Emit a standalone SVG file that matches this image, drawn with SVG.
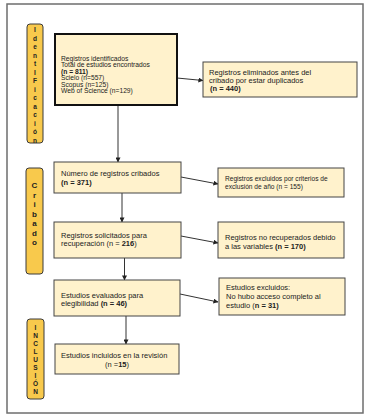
<svg xmlns="http://www.w3.org/2000/svg" width="371" height="417" viewBox="0 0 371 417">
<style>
.t{font-family:"Liberation Sans",Arial,sans-serif;font-size:7.5px;fill:#222}
.t1{font-size:6.7px}
.s{font-size:6.6px}
.b{font-weight:bold}
.bar{fill:#F8C94C;stroke:#3a3a3a;stroke-width:1}
.bl{font-family:"Liberation Sans",Arial,sans-serif;font-weight:bold;fill:#222;text-anchor:middle}
.box{fill:#FFF2CC;stroke:#444;stroke-width:1}
.box1{fill:#FFF2CC;stroke:#111;stroke-width:2}
.c{stroke:#333;stroke-width:1;fill:none;marker-end:url(#ah)}
</style>
<defs>
<marker id="ah" viewBox="0 0 6 6" refX="5.5" refY="3" markerWidth="5" markerHeight="5" orient="auto" markerUnits="userSpaceOnUse">
<path d="M0,0 L6,3 L0,6 z" fill="#222"/>
</marker>
</defs>
<rect x="0" y="0" width="371" height="417" fill="#fff"/>
<rect x="7" y="4" width="356" height="409" fill="#fff" stroke="#6e6e6e" stroke-width="1.5"/>

<g id="phase-identificacion">
<rect class="bar" x="27" y="24" width="16" height="119" rx="3"/>
<text class="bl" font-size="6.5">
<tspan x="35" y="32">I</tspan><tspan x="35" y="40.5">d</tspan><tspan x="35" y="49">e</tspan><tspan x="35" y="57.5">n</tspan><tspan x="35" y="66">t</tspan><tspan x="35" y="74.5">I</tspan><tspan x="35" y="83">F</tspan><tspan x="35" y="91.5">i</tspan><tspan x="35" y="100">c</tspan><tspan x="35" y="108.5">a</tspan><tspan x="35" y="117">c</tspan><tspan x="35" y="125.5">i</tspan><tspan x="35" y="134">ó</tspan><tspan x="35" y="142.5">n</tspan>
</text>
</g>
<g id="phase-cribado">
<rect class="bar" x="26" y="168" width="17" height="106" rx="3"/>
<text class="bl" font-size="8">
<tspan x="34.5" y="188">C</tspan><tspan x="34.5" y="197.5">r</tspan><tspan x="34.5" y="207">i</tspan><tspan x="34.5" y="216.5">b</tspan><tspan x="34.5" y="226">a</tspan><tspan x="34.5" y="235.5">d</tspan><tspan x="34.5" y="245">o</tspan>
</text>
</g>
<g id="phase-inclusion">
<rect class="bar" x="27" y="319" width="17" height="80" rx="3"/>
<text class="bl" font-size="6.5">
<tspan x="35.5" y="329.5">I</tspan><tspan x="35.5" y="337.5">N</tspan><tspan x="35.5" y="345.5">C</tspan><tspan x="35.5" y="353.5">L</tspan><tspan x="35.5" y="361.5">U</tspan><tspan x="35.5" y="369.5">S</tspan><tspan x="35.5" y="377.5">I</tspan><tspan x="35.5" y="385.5">Ó</tspan><tspan x="35.5" y="394">N</tspan>
</text>
</g>

<g id="connectors">
<line class="c" x1="118" y1="105" x2="118" y2="162"/>
<line class="c" x1="177" y1="78" x2="203" y2="80.5"/>
<line class="c" x1="122" y1="193" x2="122" y2="222"/>
<line class="c" x1="181" y1="177" x2="218" y2="184"/>
<line class="c" x1="124.5" y1="258" x2="124.5" y2="280"/>
<line class="c" x1="181" y1="236" x2="218" y2="243"/>
<line class="c" x1="126" y1="316" x2="126" y2="344"/>
<line class="c" x1="180" y1="294" x2="218" y2="302"/>
</g>

<g id="n-identificados">
<rect class="box1" x="55" y="34" width="122" height="71"/>
<text class="t t1"><tspan x="61" y="60.5">Registros identificados</tspan><tspan x="61" y="67">Total de estudios encontrados</tspan><tspan x="61" y="73.5" class="b">(n = 811)</tspan><tspan x="61" y="80">Scielo (n=557)</tspan><tspan x="61" y="86.5">Scopus (n=125)</tspan><tspan x="61" y="93">Web of Science (n=129)</tspan></text>
</g>
<g id="n-eliminados">
<rect class="box" x="203" y="62" width="154" height="35"/>
<text class="t"><tspan x="209" y="75">Registros eliminados antes del</tspan><tspan x="209" y="83">cribado por estar duplicados</tspan><tspan x="210" y="91" class="b">(n = 440)</tspan></text>
</g>
<g id="n-cribados">
<rect class="box" x="54" y="162" width="127" height="31"/>
<text class="t"><tspan x="61" y="175.5">Número de registros cribados</tspan><tspan x="61" y="184.5" class="b">(n = 371)</tspan></text>
</g>
<g id="n-excluidos-anio">
<rect class="box" x="218" y="168" width="126" height="29"/>
<text class="t s"><tspan x="225" y="181">Registros excluidos por criterios de</tspan><tspan x="225" y="189">exclusión de año (n = 155)</tspan></text>
</g>
<g id="n-solicitados">
<rect class="box" x="54" y="222" width="127" height="36"/>
<text class="t"><tspan x="61" y="237.5">Registros solicitados para</tspan><tspan x="61" y="246">recuperación (n = <tspan class="b">216</tspan>)</tspan></text>
</g>
<g id="n-no-recuperados">
<rect class="box" x="218" y="222" width="126" height="36"/>
<text class="t"><tspan x="225" y="239.5">Registros no recuperados debido</tspan><tspan x="225" y="248.5">a las variables <tspan class="b">(n = 170)</tspan></tspan></text>
</g>
<g id="n-evaluados">
<rect class="box" x="54" y="280" width="126" height="36"/>
<text class="t"><tspan x="61" y="297.5">Estudios evaluados para</tspan><tspan x="61" y="306">elegibilidad <tspan class="b">(n = 46)</tspan></tspan></text>
</g>
<g id="n-excluidos">
<rect class="box" x="219" y="278" width="126" height="37"/>
<text class="t"><tspan x="226" y="289.5">Estudios excluidos:</tspan><tspan x="226" y="298.5">No hubo acceso completo al</tspan><tspan x="226" y="307.5">estudio (<tspan class="b">n = 31)</tspan></tspan></text>
</g>
<g id="n-incluidos">
<rect class="box" x="55" y="344" width="124" height="30"/>
<text class="t"><tspan x="61" y="357.5">Estudios incluidos en la revisión</tspan><tspan x="117" y="366.5" text-anchor="middle">(n =<tspan class="b">15</tspan>)</tspan></text>
</g>
</svg>
